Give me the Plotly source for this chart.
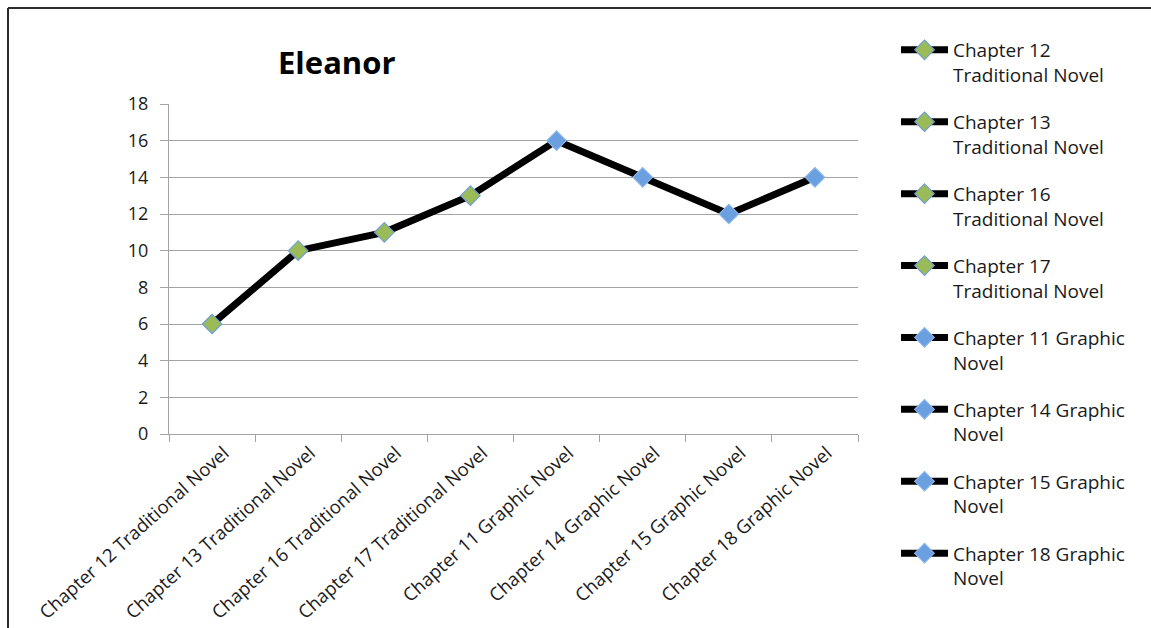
import plotly.graph_objects as go

# Chapter readings and Eleanor's scores
categories = [
    "Chapter 12 Traditional Novel",
    "Chapter 13 Traditional Novel",
    "Chapter 16 Traditional Novel",
    "Chapter 17 Traditional Novel",
    "Chapter 11 Graphic Novel",
    "Chapter 14 Graphic Novel",
    "Chapter 15 Graphic Novel",
    "Chapter 18 Graphic Novel",
]
scores = [6, 10, 11, 13, 16, 14, 12, 14]
legend_names = [
    "Chapter 12<br>Traditional Novel",
    "Chapter 13<br>Traditional Novel",
    "Chapter 16<br>Traditional Novel",
    "Chapter 17<br>Traditional Novel",
    "Chapter 11 Graphic<br>Novel",
    "Chapter 14 Graphic<br>Novel",
    "Chapter 15 Graphic<br>Novel",
    "Chapter 18 Graphic<br>Novel",
]
kinds = ["traditional"] * 4 + ["graphic"] * 4
y_ticks = [0, 2, 4, 6, 8, 10, 12, 14, 16, 18]

W, H = 1151, 628
L, R, T, B = 169, 858, 104, 434  # plot area in pixels

FONT = "Open Sans"
TEXT = "#1a1a1a"
GRID = "#a3a3a3"
LINE_W = 7
fills = {"traditional": "#9bbb59", "graphic": "#6a9fe0"}
edges = {"traditional": "#6f9fd8", "graphic": "#8cb6ea"}

fig = go.Figure()

# connecting line
fig.add_trace(go.Scatter(
    x=categories, y=scores, mode="lines",
    line=dict(color="black", width=LINE_W),
    showlegend=False, hoverinfo="skip",
))

# one marker per chapter, each with its own legend entry
for i, (cat, val, name, kind) in enumerate(zip(categories, scores, legend_names, kinds)):
    fig.add_trace(go.Scatter(
        x=[cat], y=[val], mode="lines+markers", name=name,
        legendgroup=f"g{i}",
        line=dict(color="black", width=LINE_W),
        marker=dict(symbol="diamond", size=15, color=fills[kind],
                    line=dict(color=edges[kind], width=1.2)),
    ))

def px_x(px):
    return (px - L) / (R - L)

def px_y(py):
    return (B - py) / (B - T)

# chart frame (top and left edges)
frame = dict(type="line", xref="paper", yref="paper",
             line=dict(color="#2b2b2b", width=2))
fig.add_shape(**frame, x0=px_x(8), y0=px_y(8), x1=px_x(W + 5), y1=px_y(8))
fig.add_shape(**frame, x0=px_x(8), y0=px_y(8), x1=px_x(8), y1=px_y(H + 5))

fig.add_annotation(
    text="<b>Eleanor</b>", xref="paper", yref="paper",
    x=px_x(337), y=px_y(62), xanchor="center", yanchor="middle",
    showarrow=False, font=dict(family=FONT, size=31, color="black"),
)

fig.update_layout(
    width=W, height=H,
    margin=dict(l=L, r=W - R, t=T, b=H - B, autoexpand=False),
    paper_bgcolor="white", plot_bgcolor="white",
    font=dict(family=FONT, size=18, color=TEXT),
    showlegend=True,
    legend=dict(
        x=px_x(896), y=px_y(31), xanchor="left", yanchor="top",
        font=dict(family=FONT, size=19, color=TEXT),
        tracegroupgap=19.5, itemwidth=47, valign="top",
        maxheight=620, bgcolor="rgba(0,0,0,0)",
    ),
    xaxis=dict(
        type="category", categoryorder="array", categoryarray=categories,
        tickangle=-42, tickson="boundaries", ticks="outside", ticklen=7,
        tickcolor=GRID, showline=True, linecolor=GRID, linewidth=1,
        showgrid=False, tickfont=dict(family=FONT, size=18.5, color=TEXT),
        ticklabelshift=12, ticklabelstandoff=0,
        range=[-0.5, len(categories) - 0.5],
    ),
    yaxis=dict(
        range=[0, 18], tickvals=y_ticks, ticks="outside", ticklen=8,
        tickcolor=GRID, showline=True, linecolor=GRID, linewidth=1,
        showgrid=True, gridcolor=GRID, gridwidth=1, zeroline=False,
        ticklabelstandoff=8,
        tickfont=dict(family=FONT, size=18, color=TEXT),
    ),
)

fig.write_html("out.html")
